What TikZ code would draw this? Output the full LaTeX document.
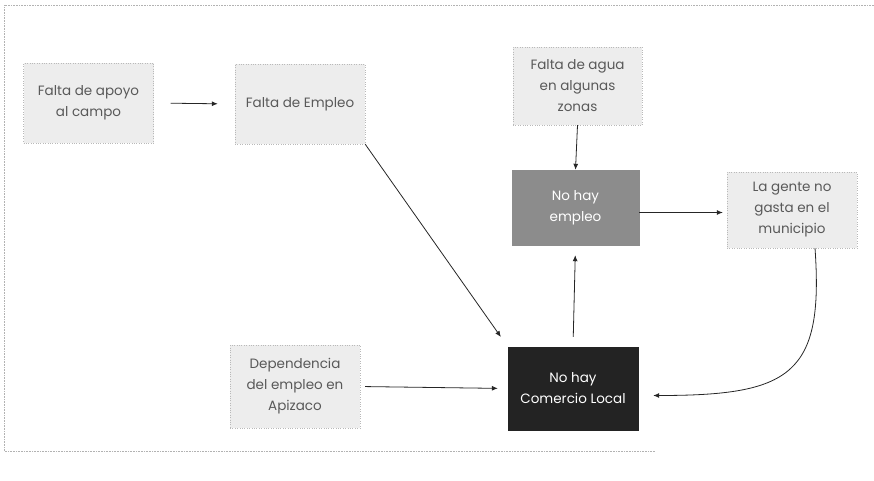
\documentclass[tikz,border=0pt]{standalone}
\usepackage{fontspec}
\setmainfont{Poppins}
\usetikzlibrary{arrows.meta,calc}
\definecolor{lightbox}{HTML}{EDEDED}
\definecolor{midbox}{HTML}{8C8C8C}
\definecolor{darkbox}{HTML}{232323}
\begin{document}
\begin{tikzpicture}[x=1pt,y=-1pt,
  base/.style={rectangle,inner sep=2pt,align=center,font=\fontsize{13.5}{21}\selectfont},
  lightnode/.style={base,fill=lightbox,draw=gray!55,dotted,text=black!65},
  midnode/.style={base,fill=midbox,draw=midbox,text=white},
  darknode/.style={base,fill=darkbox,draw=darkbox,text=white},
  conn/.style={draw=black!85,line width=0.8pt,-{Latex[length=6pt,width=5pt]}},
  frameline/.style={draw=gray!60,line width=0.6pt,densely dotted}]
\useasboundingbox (0,0) rectangle (874,481);
\coordinate (f1) at (874,5);
\coordinate (f2) at (4,5);
\coordinate (f3) at (4,451);
\coordinate (f4) at (655,451);
\draw[frameline] (f1) -- (f2) -- (f3) -- (f4);
\node[lightnode,minimum width=130pt,minimum height=80pt] (A) at (88.5,103) {Falta de apoyo\\al campo};
\node[lightnode,minimum width=130pt,minimum height=80pt] (B) at (300,104) {Falta de Empleo};
\node[lightnode,minimum width=129pt,minimum height=78pt] (C) at (577.5,86) {Falta de agua\\en algunas\\zonas};
\node[midnode,minimum width=127pt,minimum height=75pt] (D) at (575.5,207.5) {No hay\\empleo};
\node[lightnode,minimum width=130pt,minimum height=76pt] (E) at (792,210) {La gente no\\gasta en el\\municipio};
\node[lightnode,minimum width=130pt,minimum height=83pt] (F) at (295,386.5) {Dependencia\\del empleo en\\Apizaco};
\node[darknode,minimum width=130pt,minimum height=83pt] (G) at (573,388.5) {No hay\\Comercio Local};
\draw[conn,shorten <=17pt,shorten >=17pt] (A.east) -- (B.west);
\draw[conn,shorten >=12pt] (B.south east) -- (G.north west);
\draw[conn] (C.south) -- (D.north);
\draw[conn,shorten <=10pt,shorten >=10pt] (G.north) -- (D.south);
\coordinate (De) at ($(D.east)+(0,5)$);
\draw[conn,shorten >=4pt] (De) -- (De -| E.west);
\draw[conn,shorten <=5pt,shorten >=10pt] (F.east) -- (G.west);
\coordinate (Es) at ($(E.south)+(23,0)$);
\coordinate (Ge) at ($(G.east)+(15,7)$);
\draw[conn] (Es) .. controls ($(Es)+(9,127)$) and ($(Ge)+(137,0)$) .. (Ge);
\end{tikzpicture}
\end{document}
